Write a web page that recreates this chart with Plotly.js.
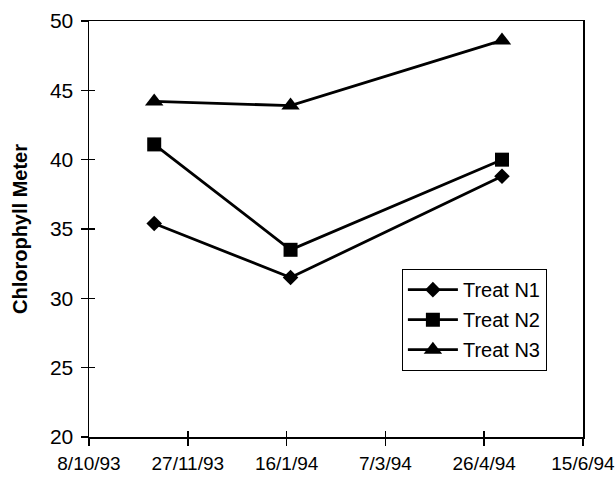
<!DOCTYPE html>
<html>
<head>
<meta charset="utf-8">
<script src="https://cdn.plot.ly/plotly-3.0.1.min.js"></script>
<style>
  html, body { margin: 0; padding: 0; background: #fff; }
  #chart { width: 615px; height: 477px; }
</style>
</head>
<body>
<div id="chart"></div>
<script>
// Sampling dates (chlorophyll meter readings)
var sampleDates = ['1993-11-10', '1994-01-18', '1994-05-05'];

// Chlorophyll meter readings per nitrogen treatment
var treatN1 = [35.4, 31.5, 38.8];
var treatN2 = [41.1, 33.5, 40.0];
var treatN3 = [44.2, 43.9, 48.6];

var seriesNames = ['Treat N1', 'Treat N2', 'Treat N3'];

// Date axis ticks, every 50 days
var xTickVals = ['1993-10-08', '1993-11-27', '1994-01-16', '1994-03-07', '1994-04-26', '1994-06-15'];
var xTickText = ['8/10/93', '27/11/93', '16/1/94', '7/3/94', '26/4/94', '15/6/94'];

var FONT = 'Liberation Sans, Arial, Helvetica, sans-serif';

function series(y, name, symbol, size) {
  return {
    type: 'scatter',
    mode: 'lines+markers',
    x: sampleDates,
    y: y,
    name: name,
    legendgroup: name,
    line: { color: '#000', width: 2.8 },
    marker: { symbol: symbol, size: size, color: '#000' }
  };
}

var data = [
  series(treatN1, seriesNames[0], 'diamond', 12),
  series(treatN2, seriesNames[1], 'square', 14),
  series(treatN3, seriesNames[2], 'triangle-up', 16),
  // invisible trace that carries the inner half of the crossing tick marks
  { type: 'scatter', x: sampleDates, y: treatN1, xaxis: 'x2', yaxis: 'y2',
    mode: 'none', showlegend: false, hoverinfo: 'skip' }
];

var xRange = [xTickVals[0], xTickVals[xTickVals.length - 1]];
var yRange = [20, 50];

var layout = {
  width: 615,
  height: 477,
  margin: { l: 89, r: 32, t: 21, b: 40 },
  paper_bgcolor: '#fff',
  plot_bgcolor: '#fff',
  font: { family: FONT, color: '#000', size: 20 },
  showlegend: true,
  xaxis: {
    type: 'date',
    range: xRange,
    tickmode: 'array',
    tickvals: xTickVals,
    ticktext: xTickText,
    ticks: 'outside',
    ticklen: 7,
    tickwidth: 1.5,
    tickcolor: '#000',
    showline: true,
    linecolor: '#000',
    linewidth: 1.5,
    mirror: true,
    showgrid: false,
    zeroline: false,
    tickfont: { family: FONT, size: 19, color: '#000' },
    ticklabeloverflow: 'allow',
    ticklabelstandoff: 2
  },
  yaxis: {
    range: yRange,
    tickmode: 'linear',
    tick0: 20,
    dtick: 5,
    ticks: 'outside',
    ticklen: 7,
    tickwidth: 1.5,
    tickcolor: '#000',
    showline: true,
    linecolor: '#000',
    linewidth: 1.5,
    mirror: true,
    showgrid: false,
    zeroline: false,
    tickfont: { family: FONT, size: 21, color: '#000' },
    ticklabelstandoff: 3,
    title: {
      text: '<b>Chlorophyll Meter</b>',
      font: { family: FONT, size: 20, color: '#000' },
      standoff: 17
    }
  },
  xaxis2: {
    type: 'date',
    overlaying: 'x',
    range: xRange,
    tickmode: 'array',
    tickvals: xTickVals,
    ticks: 'inside',
    ticklen: 6,
    tickwidth: 1.5,
    tickcolor: '#000',
    showticklabels: false,
    showline: false,
    showgrid: false,
    zeroline: false,
    anchor: 'y2',
    side: 'bottom'
  },
  yaxis2: {
    overlaying: 'y',
    range: yRange,
    tickmode: 'linear',
    tick0: 20,
    dtick: 5,
    ticks: 'inside',
    ticklen: 6,
    tickwidth: 1.5,
    tickcolor: '#000',
    showticklabels: false,
    showline: false,
    showgrid: false,
    zeroline: false,
    anchor: 'x2',
    side: 'left'
  },
  legend: {
    x: 0.633,
    y: 0.404,
    xanchor: 'left',
    yanchor: 'top',
    bgcolor: '#fff',
    bordercolor: '#000',
    borderwidth: 1.2,
    font: { family: FONT, size: 20, color: '#000' },
    itemwidth: 50,
    tracegroupgap: 1
  }
};

Plotly.newPlot('chart', data, layout, { staticPlot: true, displayModeBar: false });
</script>
</body>
</html>
